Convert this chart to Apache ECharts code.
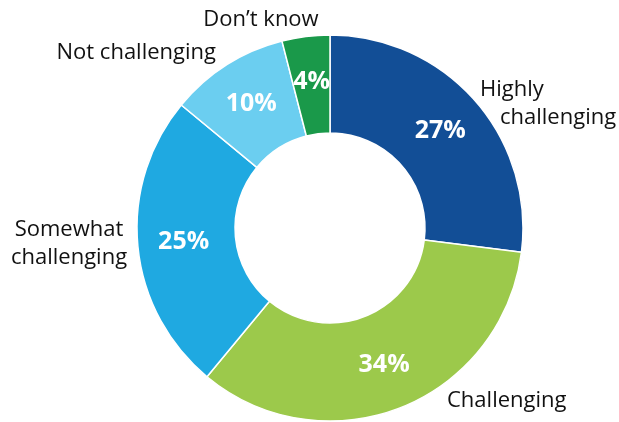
<!DOCTYPE html>
<html><head><meta charset="utf-8">
<script src="https://cdn.jsdelivr.net/npm/echarts@6/dist/echarts.min.js"></script>
<style>html,body{margin:0;padding:0;background:#fff}#c{width:619px;height:422px}</style>
</head><body><div id="c"></div>
<script>
var categories = ['Highly challenging', 'Challenging', 'Somewhat challenging', 'Not challenging', 'Don\u2019t know'];
var values = [27, 34, 25, 10, 4];
var colors = ['#124E96', '#9CC94B', '#1FA9E1', '#6BCEF0', '#1A994A'];
var outerText = ['{a|Highly}\n{b|challenging}', 'Challenging', 'Somewhat\nchallenging', 'Not challenging', 'Don\u2019t know'];
var outerPos = [[480, 104, 'left'], [447, 401, 'left'], [69, 244, 'center'], [216, 53, 'right'], [261, 20, 'center']];

var data = categories.map(function (c, i) {
  return { name: c, value: values[i], itemStyle: { color: colors[i] } };
});
var data2 = categories.map(function (c, i) {
  return { name: c, value: values[i], itemStyle: { color: 'rgba(0,0,0,0)' },
    label: { formatter: outerText[i], align: outerPos[i][2] } };
});
var font = '"Open Sans", "Noto Sans", sans-serif';
var chart = echarts.init(document.getElementById('c'));
chart.setOption({
  animation: false,
  series: [{
    type: 'pie', center: [330, 228], radius: [95, 193], startAngle: 90, clockwise: true,
    itemStyle: { borderColor: '#fff', borderWidth: 1.5 },
    label: { position: 'inside', formatter: '{c}%', color: '#fff', fontSize: 25, fontWeight: 'bold', fontFamily: font },
    labelLine: { show: false },
    data: data
  }, {
    type: 'pie', center: [330, 228], radius: [95, 193], startAngle: 90, clockwise: true, silent: true,
    label: { position: 'outside', overflow: 'none', width: 300, color: '#111', fontSize: 22, fontFamily: font, lineHeight: 28,
      rich: { a: { fontSize: 22, fontFamily: font, color: '#111', lineHeight: 28 },
              b: { fontSize: 22, fontFamily: font, color: '#111', lineHeight: 28, padding: [0, 0, 0, 20] } } },
    labelLine: { show: false },
    labelLayout: function (p) {
      var o = outerPos[p.dataIndex];
      return { x: o[0], y: o[1], align: o[2], verticalAlign: 'middle' };
    },
    data: data2
  }]
});
</script></body></html>
